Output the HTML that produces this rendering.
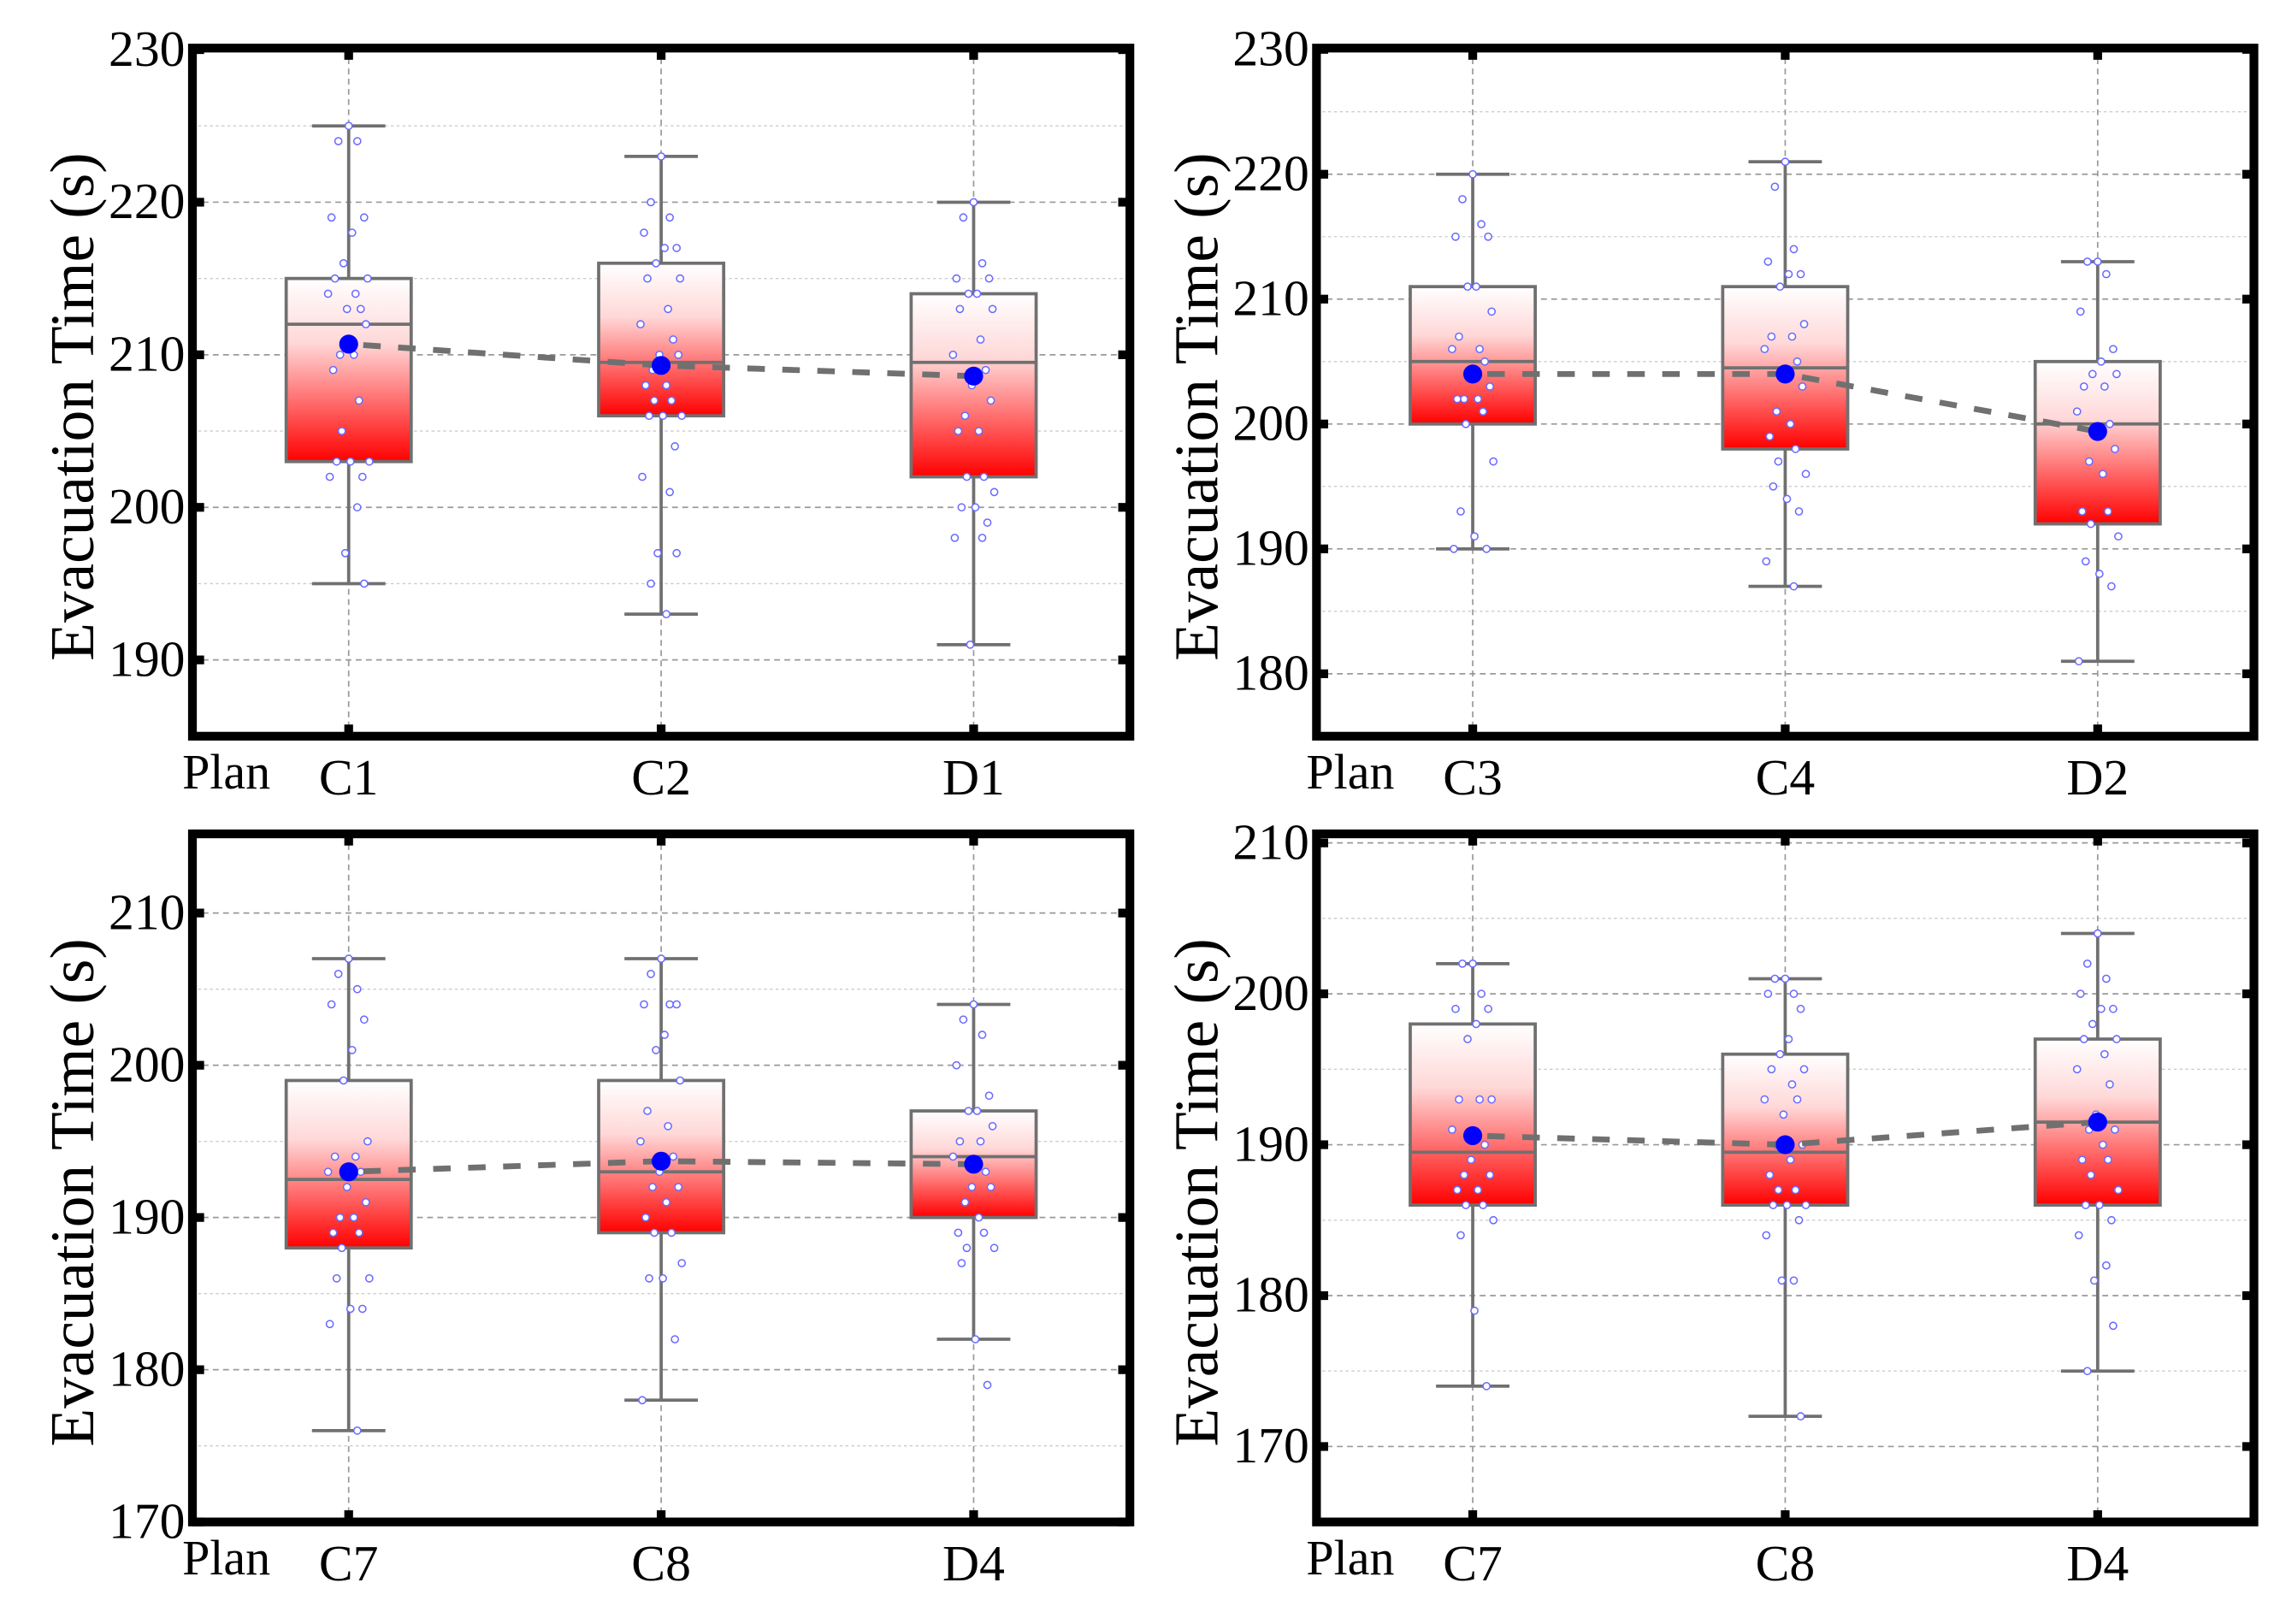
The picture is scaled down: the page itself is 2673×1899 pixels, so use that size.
<!DOCTYPE html>
<html><head><meta charset="utf-8"><style>
html,body{margin:0;padding:0;background:#fff;}
svg{display:block;}
text{font-family:"Liberation Serif",serif;fill:#000;}
</style></head><body>
<svg id="fig" width="2673" height="1899" viewBox="0 0 1568 1114" preserveAspectRatio="none" xmlns="http://www.w3.org/2000/svg">
<defs>
<linearGradient id="boxgrad" x1="0" y1="0" x2="0" y2="1">
<stop offset="0" stop-color="#ffffff"/>
<stop offset="0.35" stop-color="#ffd8d8"/>
<stop offset="1" stop-color="#ff0000"/>
</linearGradient>
</defs>
</svg>
<script>
// ---- data ----
const panel1Categories = ["C1","C2","D1"];
const panel2Categories = ["C3","C4","D2"];
const panel3Categories = ["C7","C8","D4"];
const panel4Categories = ["C7","C8","D4"];

const panel1WhiskerLow = [195,193,191];
const panel1WhiskerHigh = [225,223,220];
const panel1Q1 = [203,206,202];
const panel1Q3 = [215,216,214];
const panel1Median = [212,209.5,209.5];
const panel1Mean = [210.7,209.3,208.6];

const panel2WhiskerLow = [190,187,181];
const panel2WhiskerHigh = [220,221,213];
const panel2Q1 = [200,198,192];
const panel2Q3 = [211,211,205];
const panel2Median = [205,204.5,200];
const panel2Mean = [204,204,199.4];

const panel3WhiskerLow = [176,178,182];
const panel3WhiskerHigh = [207,207,204];
const panel3Q1 = [188,189,190];
const panel3Q3 = [199,199,197];
const panel3Median = [192.5,193,194];
const panel3Mean = [193,193.7,193.5];

const panel4WhiskerLow = [174,172,175];
const panel4WhiskerHigh = [202,201,204];
const panel4Q1 = [186,186,186];
const panel4Q3 = [198,196,197];
const panel4Median = [189.5,189.5,191.5];
const panel4Mean = [190.6,190,191.5];

const panel1Points = [
 [225,224,224,219,219,218,216,215,215,214,214,213,213,212,210,210,209,207,205,203,203,203,202,202,200,197,195],
 [223,220,219,218,217,217,216,215,215,213,212,211,210,210,209,208,208,207,207,206,206,206,204,202,201,197,197,195,193],
 [220,219,216,215,215,214,214,213,213,211,210,209,208,207,206,205,205,202,202,201,200,200,199,198,198,191]
];
const panel2Points = [
 [220,218,216,215,215,211,211,209,207,206,206,205,204,203,202,202,202,201,200,197,193,191,190,190],
 [221,219,214,213,212,212,211,208,207,207,206,205,204,203,201,200,199,198,197,196,195,194,193,189,187],
 [213,213,212,209,206,205,204,204,203,203,201,200,199,198,197,196,193,193,192,191,189,188,187,181]
];
const panel3Points = [
 [207,206,205,204,203,201,199,195,194,194,193,193,192,191,190,190,189,189,188,186,186,184,184,183,176],
 [207,206,204,204,204,202,201,199,197,196,195,194,193,192,192,191,190,189,189,187,186,186,182,178],
 [204,203,202,200,198,197,197,196,195,195,194,193,192,192,191,190,189,189,188,188,187,182,179]
];
const panel4Points = [
 [202,202,200,199,199,198,197,193,193,193,191,190,189,188,188,187,187,186,186,185,184,179,174],
 [201,201,200,200,199,197,196,195,195,194,193,193,192,190,190,189,188,187,187,186,186,186,185,184,181,181,172],
 [204,202,201,200,199,199,198,197,197,196,195,194,192,191,191,190,189,189,188,187,186,186,185,184,182,181,178,175]
];

const panel1Ticks = [190,200,210,220,230];
const panel2Ticks = [180,190,200,210,220,230];
const panel3Ticks = [170,180,190,200,210];
const panel4Ticks = [170,180,190,200,210];

// ---- drawing ----
const NS = "http://www.w3.org/2000/svg";
const svg = document.getElementById("fig");
function mk(tag, attrs, parent){
  const e = document.createElementNS(NS, tag);
  for (const k in attrs) e.setAttribute(k, attrs[k]);
  (parent||svg).appendChild(e);
  return e;
}
const jit = [0,-0.06,0.05,-0.1,0.09,0.02,-0.03,0.11,-0.08,0.04,-0.12,0.07,-0.01,0.1,-0.05,0.03,-0.09,0.06,-0.04,0.12,-0.07,0.01,0.08,-0.11,0.05,-0.02,0.09,-0.06,0.03];

function panel(cfg){
  const {L,R,T,B,ymin,ymax,cats,wl,wh,q1,q3,med,mean,pts,ticks,id} = cfg;
  const g = mk("g",{});
  
  
  const ys = v => B - (v - ymin) / (ymax - ymin) * (B - T);
  const xs = i => L + (R - L) * (2*i + 1) / 6;
  for (let v = Math.ceil(ymin/5)*5; v <= ymax; v += 5){
    if (v % 10 === 0) continue;
    const l = mk("line",{x1:L,x2:R,y1:ys(v),y2:ys(v),stroke:"#ccc","stroke-width":0.8,"stroke-dasharray":"2,2"},g);
    
    
  }
  ticks.forEach(v=>{
    const y = ys(v);
    const l = mk("line",{x1:L,x2:R,y1:y,y2:y,stroke:"#999","stroke-width":1,"stroke-dasharray":"4,3"},g);
    
    
    mk("line",{x1:L,x2:L+8,y1:y,y2:y,stroke:"#000","stroke-width":6},g);
    mk("line",{x1:R-8,x2:R,y1:y,y2:y,stroke:"#000","stroke-width":6},g);
    const t = mk("text",{x:L-5,y:y+11,"text-anchor":"end","font-size":35},g);
    t.textContent = v;
    
    
  });
  cats.forEach((c,i)=>{
    const x = xs(i);
    const vl = mk("line",{x1:x,x2:x,y1:T,y2:B,stroke:"#999","stroke-width":1,"stroke-dasharray":"4,3"},g);
    
    
    mk("line",{x1:x,x2:x,y1:T,y2:T+8,stroke:"#000","stroke-width":6},g);
    mk("line",{x1:x,x2:x,y1:B-8,y2:B,stroke:"#000","stroke-width":6},g);
    const t = mk("text",{x:x,y:B+40,"text-anchor":"middle","font-size":35},g);
    t.textContent = c;
    
    
  });
  const plan = mk("text",{x:L-7,y:B+36,"font-size":34},g);
  plan.textContent = "Plan";
  
  
  const bw = (R-L)/6*0.8, cw = (R-L)/6*0.47;
  cats.forEach((c,i)=>{
    const x = xs(i);
    const bg = mk("g",{},g);
    
    
    mk("line",{x1:x,x2:x,y1:ys(wh[i]),y2:ys(wl[i]),stroke:"#707070","stroke-width":2.2},bg);
    mk("line",{x1:x-cw/2,x2:x+cw/2,y1:ys(wh[i]),y2:ys(wh[i]),stroke:"#707070","stroke-width":2.2},bg);
    mk("line",{x1:x-cw/2,x2:x+cw/2,y1:ys(wl[i]),y2:ys(wl[i]),stroke:"#707070","stroke-width":2.2},bg);
    mk("rect",{x:x-bw/2,y:ys(q3[i]),width:bw,height:ys(q1[i])-ys(q3[i]),fill:"url(#boxgrad)",stroke:"#707070","stroke-width":2.2},bg);
    mk("line",{x1:x-bw/2,x2:x+bw/2,y1:ys(med[i]),y2:ys(med[i]),stroke:"#707070","stroke-width":2.2},bg);
  });
  pts.forEach((arr,i)=>{
    arr.forEach((v,j)=>{
      const p = mk("circle",{cx:xs(i)+jit[j%jit.length]*(R-L)/3*0.55,cy:ys(v),r:2.4,fill:"#fff",stroke:"#6a6aff","stroke-width":0.9},g);
      
      
    });
  });
  const d = mean.map((m,i)=>(i?"L":"M")+xs(i)+","+ys(m)).join(" ");
  const ml = mk("path",{d:d,fill:"none",stroke:"#707070","stroke-width":4,"stroke-dasharray":"12,12","stroke-dashoffset":-10},g);
  
  
  mean.forEach((m,i)=>{
    const c = mk("circle",{cx:xs(i),cy:ys(m),r:6.5,fill:"#0000ff"},g);
    
    
  });
  const f = mk("rect",{x:L,y:T,width:R-L,height:B-T,fill:"none",stroke:"#000","stroke-width":6},g);
  
  
  const cy = (T+B)/2 + 10;
  const tx = L-82;
  const yt = mk("text",{x:tx,y:cy,"text-anchor":"middle","font-size":43,transform:"rotate(-90 "+tx+" "+cy+")","dy":14},g);
  yt.textContent = "Evacuation Time (s)";
  
  
}

panel({id:"panel-top-left",L:132,R:775,T:33,B:505,ymin:185,ymax:230.1,cats:panel1Categories,wl:panel1WhiskerLow,wh:panel1WhiskerHigh,q1:panel1Q1,q3:panel1Q3,med:panel1Median,mean:panel1Mean,pts:panel1Points,ticks:panel1Ticks});
panel({id:"panel-top-right",L:903,R:1546,T:33,B:505,ymin:175,ymax:230.1,cats:panel2Categories,wl:panel2WhiskerLow,wh:panel2WhiskerHigh,q1:panel2Q1,q3:panel2Q3,med:panel2Median,mean:panel2Mean,pts:panel2Points,ticks:panel2Ticks});
panel({id:"panel-bottom-left",L:132,R:775,T:572,B:1044,ymin:170,ymax:215.2,cats:panel3Categories,wl:panel3WhiskerLow,wh:panel3WhiskerHigh,q1:panel3Q1,q3:panel3Q3,med:panel3Median,mean:panel3Mean,pts:panel3Points,ticks:panel3Ticks});
panel({id:"panel-bottom-right",L:903,R:1546,T:572,B:1044,ymin:165,ymax:210.6,cats:panel4Categories,wl:panel4WhiskerLow,wh:panel4WhiskerHigh,q1:panel4Q1,q3:panel4Q3,med:panel4Median,mean:panel4Mean,pts:panel4Points,ticks:panel4Ticks});
</script>
</body></html>
